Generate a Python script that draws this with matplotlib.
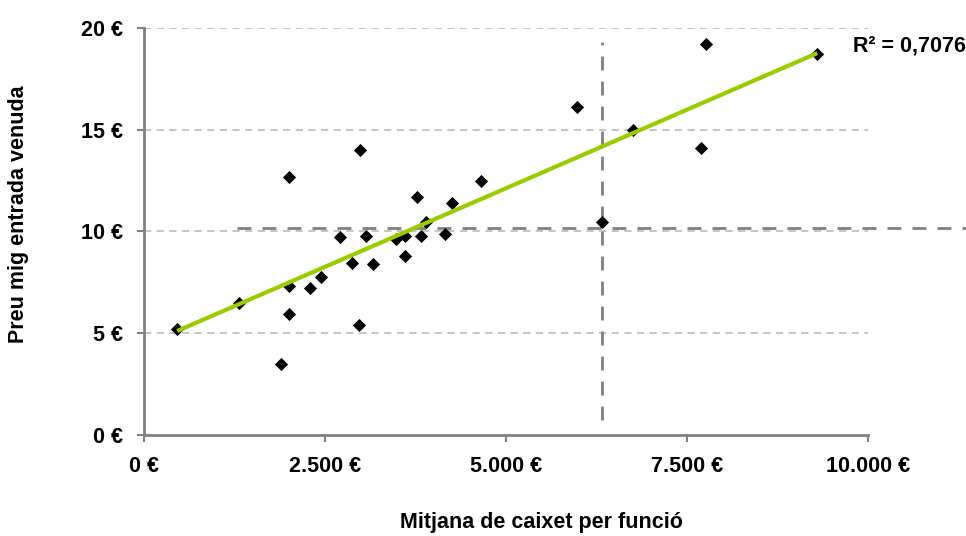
import numpy as np
import matplotlib
matplotlib.use("Agg")
import matplotlib.pyplot as plt
from matplotlib.ticker import FuncFormatter

plt.rcParams['font.family'] = ['Liberation Sans', 'DejaVu Sans']

# Data: average box office per show (€) vs. average price per ticket sold (€)
caixet = [460, 1310, 2000, 2000, 2000, 1890, 2290, 2450, 2710, 2880, 2970, 2980,
          3070, 3170, 3480, 3600, 3610, 3770, 3830, 3900, 4160, 4250,
          4650, 5980, 6760, 6320, 7760, 7690, 9300]
preu = [5.2, 6.5, 12.7, 7.3, 5.95, 3.5, 7.2, 7.75, 9.75, 8.45, 5.4, 14.0,
        9.8, 8.4, 9.65, 9.8, 8.8, 11.7, 9.8, 10.45, 9.9, 11.4,
        12.5, 16.1, 15.0, 10.45, 19.2, 14.1, 18.7]
r2_text = "R² = 0,7076"

# Reference (average) lines
ref_x = 6320
ref_x_span = (0.74, 19.3)
ref_y = 10.15
ref_y_span = (1285, 11400)

xticks = [0, 2500, 5000, 7500, 10000]
yticks = [0, 5, 10, 15, 20]

FS = 15.5

fig = plt.figure(figsize=(9.66, 5.36), dpi=100)
ax = fig.add_axes([0.149, 0.1884, 0.7495, 0.7594])

ax.set_xlim(0, 10000)
ax.set_ylim(0, 20)

# grid
for yv in yticks[1:]:
    ax.plot([0, 10000], [yv, yv], color='#C0C0C0', lw=1.3, ls=(0, (4, 3)), zorder=1)

# reference lines
ax.plot([ref_x, ref_x], ref_x_span, color='#808080', lw=2, ls=(0, (5, 4)), zorder=2, clip_on=False)
ax.plot(ref_y_span, [ref_y, ref_y], color='#808080', lw=2, ls=(0, (5, 4)), zorder=2, clip_on=False)

# scatter
ax.scatter(caixet, preu, marker='D', s=45, color='black', zorder=3, linewidths=0)

# trend line
x = np.array(caixet, dtype=float)
y = np.array(preu, dtype=float)
m, b = np.polyfit(x, y, 1)
xs = np.array([x.min(), x.max()])
ax.plot(xs, m * xs + b, color='#99CC00', lw=3, zorder=4, solid_capstyle='butt')

ax.text(0.979, 0.955, r2_text, transform=ax.transAxes, fontsize=FS, fontweight='bold',
        ha='left', va='center')

for s in ['top', 'right']:
    ax.spines[s].set_visible(False)
for s in ['left', 'bottom']:
    ax.spines[s].set_color('#808080')
    ax.spines[s].set_linewidth(2)

ax.set_xticks(xticks)
ax.set_yticks(yticks)
ax.xaxis.set_major_formatter(FuncFormatter(lambda v, p: f"{int(v):,}".replace(",", ".") + " €"))
ax.yaxis.set_major_formatter(FuncFormatter(lambda v, p: f"{int(v)} €"))
ax.tick_params(axis='both', color='#808080', width=1.5, length=5, labelsize=FS)
ax.tick_params(axis='x', pad=10)
ax.tick_params(axis='y', pad=10)
for lab in ax.get_xticklabels() + ax.get_yticklabels():
    lab.set_fontweight('bold')

fig.text(0.56, 0.026, "Mitjana de caixet per funció", ha='center', va='center',
         fontsize=FS, fontweight='bold')
fig.text(0.019, 0.6, "Preu mig entrada venuda", ha='center', va='center',
         rotation=90, fontsize=FS, fontweight='bold')

fig.savefig("out.png", dpi=100)
